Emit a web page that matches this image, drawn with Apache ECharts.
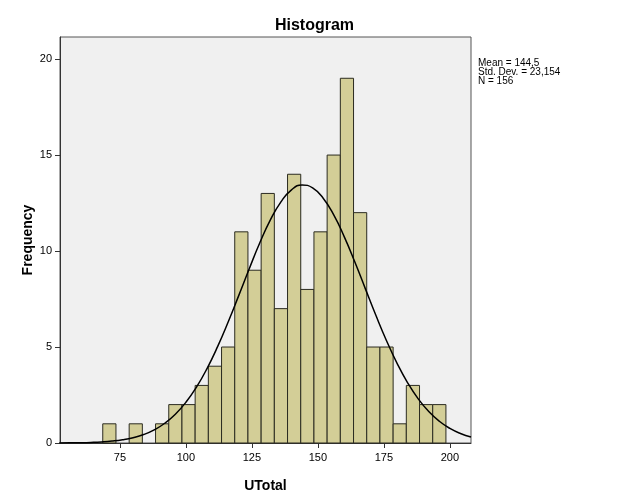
<!DOCTYPE html>
<html>
<head>
<meta charset="utf-8">
<script src="https://cdn.jsdelivr.net/npm/echarts@6/dist/echarts.min.js"></script>
<style>
html,body{margin:0;padding:0;background:#fff;}
#c{width:629px;height:504px;}
</style>
</head>
<body>
<div id="c"></div>
<script>
// bin edges (lower bound of each bin, width 5)
var binStarts = [68.5,73.5,78.5,83.5,88.5,93.5,98.5,103.5,108.5,113.5,118.5,123.5,128.5,133.5,138.5,143.5,148.5,153.5,158.5,163.5,168.5,173.5,178.5,183.5,188.5,193.5];
var binWidth = 5;
var counts = [1,0,1,0,1,2,2,3,4,5,11,9,13,7,14,8,11,15,19,12,5,5,1,3,2,2];
// normal curve
var curveX = [52,56,60,64,68,72,76,80,84,88,92,96,100,104,108,112,116,120,124,128,132,136,140,144,148,152,156,160,164,168,172,176,180,184,188,192,196,200,204,208];
var curveY = [0.005,0.009,0.017,0.032,0.057,0.100,0.169,0.278,0.442,0.685,1.028,1.499,2.120,2.911,3.879,5.019,6.302,7.677,9.081,10.43,11.62,12.56,13.19,13.44,13.29,12.75,11.88,10.74,9.427,8.030,6.638,5.327,4.149,3.137,2.301,1.639,1.133,0.760,0.495,0.313];
var xTicks = [75,100,125,150,175,200];
var yTicks = [0,5,10,15,20];
var statsLines = ['Mean = 144,5','Std. Dev. = 23,154','N = 156'];

var barData = binStarts.map(function(s,i){ return [s, s+binWidth, counts[i]]; }).filter(function(d){return d[2]>0;});
var lineData = curveX.map(function(x,i){ return [x, curveY[i]]; });

var chart = echarts.init(document.getElementById('c'), null, {renderer:'canvas'});
var font = 'Liberation Sans, Arial, sans-serif';
chart.setOption({
  animation:false,
  backgroundColor:'#ffffff',
  title:{
    text:'Histogram', left:'center', top:13,
    textStyle:{fontFamily:font, fontSize:16, fontWeight:'bold', color:'#000'}
  },
  grid:{
    left:60, right:158, top:37, bottom:61,
    show:true, backgroundColor:'#F0F0F0', borderColor:'#555', borderWidth:1
  },
  xAxis:{
    type:'value', min:52.3, max:208,
    name:'UTotal', nameLocation:'middle', nameGap:36,
    nameTextStyle:{fontFamily:font, fontSize:14, fontWeight:'bold', color:'#000'},
    axisLine:{show:true, onZero:false, lineStyle:{color:'#333', width:1}},
    axisTick:{show:true, length:5, customValues:xTicks, lineStyle:{color:'#333'}},
    axisLabel:{customValues:xTicks, fontFamily:font, fontSize:11, color:'#000', margin:9},
    splitLine:{show:false}
  },
  yAxis:{
    type:'value', min:0, max:21.15,
    name:'Frequency', nameLocation:'middle', nameGap:25, nameRotate:90,
    nameMoveOverlap:false,
    nameTextStyle:{fontFamily:font, fontSize:14, fontWeight:'bold', color:'#000'},
    axisLine:{show:true, lineStyle:{color:'#333', width:1}},
    axisTick:{show:true, length:5, customValues:yTicks, lineStyle:{color:'#333'}},
    axisLabel:{customValues:yTicks, fontFamily:font, fontSize:11, color:'#000', margin:8},
    splitLine:{show:false}
  },
  graphic:[{
    type:'text', left:478, top:58,
    style:{text:statsLines.join('\n'), fontFamily:font, fontSize:10, lineHeight:9, fill:'#000'}
  }],
  series:[{
    type:'custom',
    data:barData,
    encode:{x:[0,1], y:2},
    renderItem:function(params, api){
      var p0 = api.coord([api.value(0), api.value(2)]);
      var p1 = api.coord([api.value(1), 0]);
      return {
        type:'rect',
        shape:{x:p0[0], y:p0[1], width:p1[0]-p0[0], height:p1[1]-p0[1]},
        style:{fill:'#D3CE97', stroke:'#2b2b20', lineWidth:1}
      };
    },
    z:2
  },{
    type:'line', data:lineData, smooth:true, symbol:'none',
    lineStyle:{color:'#000', width:1.5}, z:3
  }]
});
</script>
</body>
</html>
